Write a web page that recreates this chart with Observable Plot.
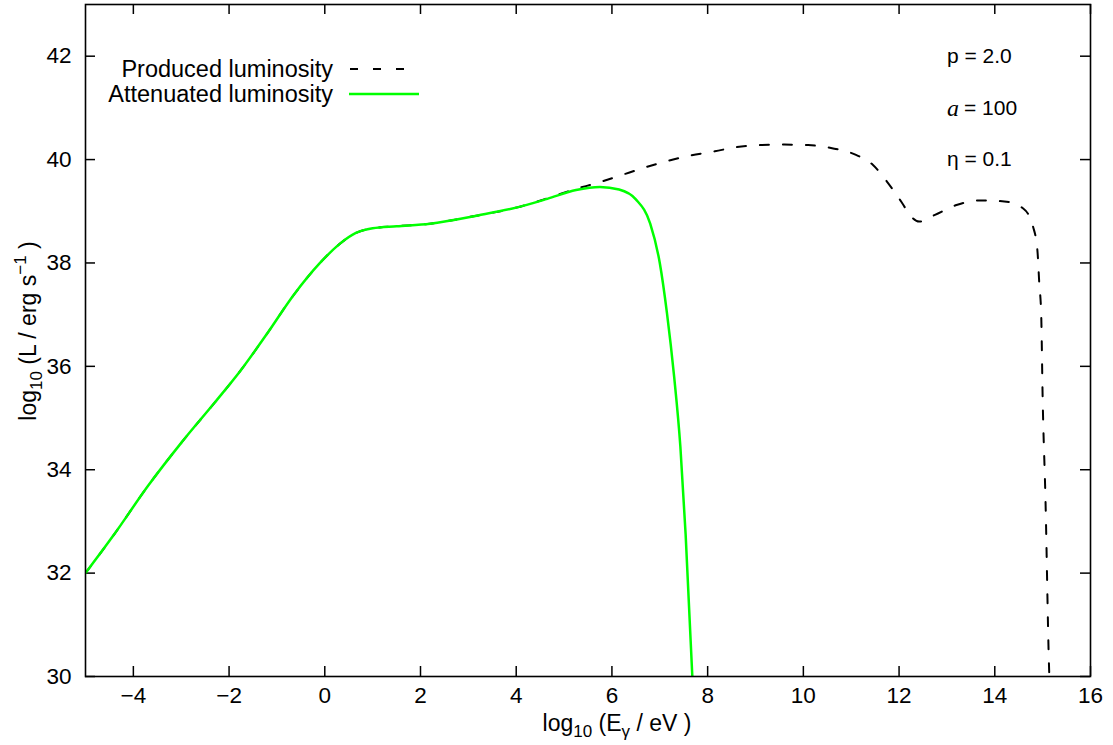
<!DOCTYPE html>
<html><head><meta charset="utf-8">
<script src="https://cdn.jsdelivr.net/npm/d3@7"></script>
<script src="https://cdn.jsdelivr.net/npm/@observablehq/plot@0.6"></script>
<style>body{margin:0;background:#fff} svg{display:block}</style>
</head><body><div id="chart"></div>
<script>
// ---- data ----
const attenuatedX = [-5, -4.4, -3.7, -3.0, -2.3, -1.75, -1.2, -0.65, -0.1, 0.3, 0.65, 1.0, 1.5, 2.2, 3.2, 4.0, 4.65, 5.25, 5.75, 6.15, 6.5, 6.8, 7.0, 7.15, 7.3, 7.43, 7.54, 7.68];
const attenuatedY = [32.0, 32.75, 33.68, 34.52, 35.3, 35.93, 36.64, 37.38, 38.0, 38.36, 38.58, 38.67, 38.71, 38.76, 38.92, 39.07, 39.24, 39.41, 39.47, 39.42, 39.23, 38.76, 38.0, 37.03, 35.8, 34.45, 32.75, 30.0];
const producedX = [-5, -4.4, -3.7, -3.0, -2.3, -1.75, -1.2, -0.65, -0.1, 0.3, 0.65, 1.0, 1.5, 2.2, 3.2, 4.0, 4.65, 5.2, 5.7, 6.2, 6.7, 7.15, 7.65, 8.15, 8.6, 9.1, 9.6, 10.1, 10.6, 11.1, 11.45, 11.75, 12.05, 12.25, 12.42, 12.75, 13.2, 13.7, 14.2, 14.6, 14.8, 14.89, 14.93, 14.97, 15.0, 15.06, 15.13, 15.16];
const producedY = [32.0, 32.75, 33.68, 34.52, 35.3, 35.93, 36.64, 37.38, 38.0, 38.36, 38.58, 38.67, 38.71, 38.76, 38.92, 39.07, 39.25, 39.42, 39.55, 39.7, 39.85, 39.97, 40.08, 40.16, 40.24, 40.28, 40.29, 40.28, 40.22, 40.09, 39.9, 39.57, 39.18, 38.9, 38.8, 38.93, 39.12, 39.21, 39.19, 39.05, 38.7, 38.25, 37.6, 37.0, 35.4, 33.4, 30.3, 29.5];
const xTicks = [-4, -2, 0, 2, 4, 6, 8, 10, 12, 14, 16];
const yTicks = [30, 32, 34, 36, 38, 40, 42];
const legendLabels = ["Produced luminosity", "Attenuated luminosity"];
const paramNames = ["p", "a", "η"];
const paramValues = ["2.0", "100", "0.1"];
const paramX = [13, 13, 13];
const paramY = [42, 41, 40];

// ---- tables ----
const attenuated = attenuatedX.map((x, i) => ({x, y: attenuatedY[i]}));
const produced = producedX.map((x, i) => ({x, y: producedY[i]}));
const params = paramNames.map((n, i) => ({n, v: paramValues[i], x: paramX[i], y: paramY[i]}));
const sansParams = params.filter(d => d.n !== "a");
const italicParams = params.filter(d => d.n === "a");

const W = 1113, H = 745, mL = 85, mR = 23, mT = 4, mB = 69;
const fh = H - mT - mB, fw = W - mL - mR;
const font = "'Liberation Sans', Arial, Helvetica, sans-serif";
const serif = "'Liberation Serif', 'Times New Roman', serif";
const fmt = d => d < 0 ? "\u2212" + Math.abs(d) : String(d);

const plot = Plot.plot({
  width: W, height: H,
  marginLeft: mL, marginRight: mR, marginTop: mT, marginBottom: mB,
  style: {fontFamily: font, fontSize: "22px", color: "#000", background: "#fff", overflow: "visible"},
  x: {domain: [-5, 16]},
  y: {domain: [30, 43]},
  marks: [
    Plot.axisX({ticks: xTicks, tickSize: 0, tickPadding: 11, tickFormat: fmt, label: null, fontSize: 22.5}),
    Plot.axisY({ticks: yTicks, tickSize: 0, tickPadding: 14, tickFormat: fmt, label: null, fontSize: 22.5}),
    Plot.tickX(xTicks, {insetTop: fh - 10, stroke: "#000", strokeWidth: 1.5}),
    Plot.tickX(xTicks, {insetBottom: fh - 10, stroke: "#000", strokeWidth: 1.5}),
    Plot.tickY(yTicks, {insetRight: fw - 10, stroke: "#000", strokeWidth: 1.5}),
    Plot.tickY(yTicks, {insetLeft: fw - 10, stroke: "#000", strokeWidth: 1.5}),
    Plot.line(produced, {x: "x", y: "y", stroke: "#000", strokeWidth: 2, strokeDasharray: "9,14", curve: "monotone-x", clip: true}),
    Plot.line(attenuated, {x: "x", y: "y", stroke: "#00ff00", strokeWidth: 2.5, curve: "monotone-x", clip: true}),
    Plot.frame({stroke: "#000", strokeWidth: 1.6}),
    Plot.text(sansParams, {x: "x", y: "y", text: d => d.n + " = " + d.v, textAnchor: "start", fontSize: 21, fill: "#000"}),
    Plot.text(italicParams, {x: "x", y: "y", text: "n", textAnchor: "start", fontSize: 24, fontFamily: serif, fontStyle: "italic", fill: "#000"}),
    Plot.text(italicParams, {x: "x", y: "y", text: d => "= " + d.v, textAnchor: "start", dx: 17, fontSize: 21, fill: "#000"})
  ]
});
document.getElementById("chart").append(plot);

const svg = d3.select(plot);

// axis labels with sub/superscripts
const xl = svg.append("text").attr("x", 617).attr("y", 731).attr("text-anchor", "middle")
  .attr("font-family", font).attr("font-size", 23).attr("fill", "#000");
xl.append("tspan").text("log");
xl.append("tspan").attr("dy", 6).attr("font-size", 17).text("10");
xl.append("tspan").attr("dy", -6).text(" (E");
xl.append("tspan").attr("dy", 6).attr("font-size", 17).text("γ");
xl.append("tspan").attr("dy", -6).text(" / eV )");

const yl = svg.append("text").attr("transform", "translate(36,331) rotate(-90)").attr("text-anchor", "middle")
  .attr("font-family", font).attr("font-size", 23).attr("fill", "#000");
yl.append("tspan").text("log");
yl.append("tspan").attr("dy", 6).attr("font-size", 17).text("10");
yl.append("tspan").attr("dy", -6).text(" (L / erg s");
yl.append("tspan").attr("dy", -10).attr("font-size", 17).text("\u22121");
yl.append("tspan").attr("dy", 10).text(" )");

// legend
const lg = svg.append("g").attr("font-family", font).attr("font-size", 23.5).attr("fill", "#000");
[69, 94].forEach((yy, i) => {
  lg.append("text").attr("x", 333).attr("y", yy).attr("dy", "0.36em").attr("text-anchor", "end").text(legendLabels[i]);
});
lg.append("line").attr("x1", 350).attr("x2", 405).attr("y1", 69).attr("y2", 69)
  .attr("stroke", "#000").attr("stroke-width", 2).attr("stroke-dasharray", "8,15");
lg.append("line").attr("x1", 349).attr("x2", 419).attr("y1", 94).attr("y2", 94)
  .attr("stroke", "#00ff00").attr("stroke-width", 2.5);
</script>
</body></html>
